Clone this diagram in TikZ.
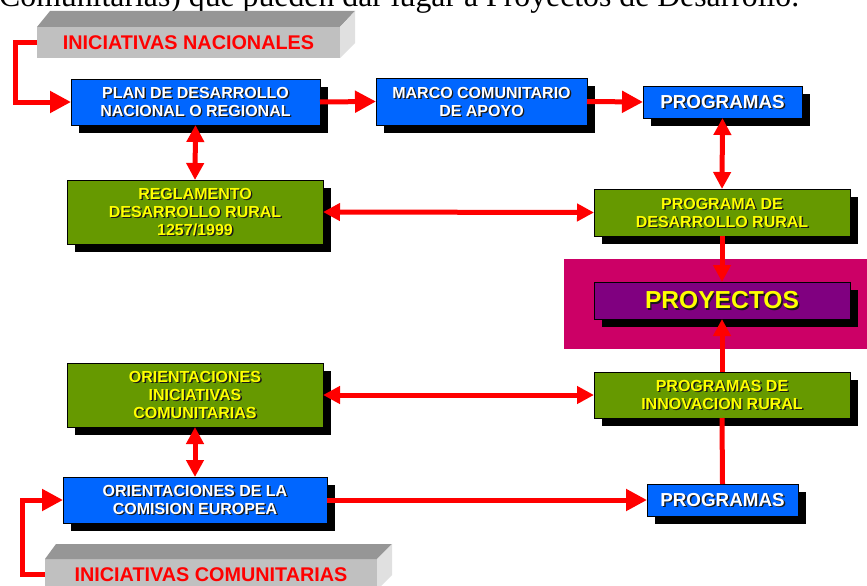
\documentclass[tikz,border=0pt]{standalone}
\usepackage{fontspec}
\setmainfont{Liberation Serif}
\setsansfont{Liberation Sans}
\usetikzlibrary{arrows.meta,shadows}
\definecolor{bxblue}{HTML}{0066FF}
\definecolor{bxgreen}{HTML}{669900}
\definecolor{bxpurple}{HTML}{800080}
\definecolor{bgmag}{HTML}{CC0066}
\definecolor{gfront}{HTML}{C0C0C0}
\definecolor{gtop}{HTML}{969696}
\definecolor{gside}{HTML}{E0E0E0}
\definecolor{txyellow}{HTML}{FFFF00}
\definecolor{arred}{HTML}{FF0000}
\tikzset{
  bx/.style={draw=black, line width=0.8pt, inner sep=0pt, outer sep=0pt,
    drop shadow={shadow xshift=8pt, shadow yshift=-8pt, fill=black, opacity=1}},
  lbl/.style={font=\sffamily\bfseries\fontsize{16}{18}\selectfont, align=center, inner sep=0pt},
  lblbig/.style={font=\sffamily\bfseries\fontsize{18.8}{20}\selectfont, align=center, inner sep=0pt},
  lblproy/.style={font=\sffamily\bfseries\fontsize{24.6}{26}\selectfont, align=center, inner sep=0pt},
  inic/.style={font=\sffamily\bfseries\fontsize{19.8}{22}\selectfont, text=arred, inner sep=0pt},
  gfr/.style={fill=gfront, inner sep=0pt, outer sep=0pt},
  ln/.style={draw=arred, line width=5pt},
  big/.style={ln, -{Triangle[length=21pt,width=21pt]}},
  sm/.style={ln, -{Triangle[length=17pt,width=17pt]}},
  dbl/.style={ln, {Triangle[length=17pt,width=17pt]}-{Triangle[length=17pt,width=17pt]}},
}
% name, center, width, height, fill, text colour, label style, text
\newcommand\mybox[8]{%
  \node[bx, fill=#5, minimum width=#3pt, minimum height=#4pt] (#1) at (#2) {};
  \node[#7, text=black!90] at ([shift={(1.4,1.4)}]#1.center) {#8};
  \node[#7, text=#6] at (#1.center) {#8};
}
\begin{document}
\begin{tikzpicture}[x=1pt,y=-1pt]
\useasboundingbox (0,0) rectangle (867,586);
\clip (0,0) rectangle (867,586);
\fill[white] (0,0) rectangle (867,586);

% heading line cut by the top edge
\node[anchor=base west, inner sep=0pt] (cap) at (-1,6.7)
  {\resizebox{800pt}{!}{\fontsize{28}{30}\selectfont Comunitarias) que pueden dar lugar a Proyectos de Desarrollo.}};

% magenta background
\fill[bgmag] (564,259) rectangle (867,349);

% grey 3D boxes
\node[gfr, minimum width=303pt, minimum height=31pt] (inac) at (188.5,42.5) {};
\fill[gtop] (inac.north west) -- ++(13,-16) -- ([shift={(15,-16)}]inac.north east) -- (inac.north east) -- cycle;
\fill[gside] (inac.north east) -- ++(15,-16) -- ++(0,32) -- (inac.south east) -- cycle;
\node[inic] at (inac.center) {INICIATIVAS NACIONALES};

\node[gfr, minimum width=332pt, minimum height=31pt] (icom) at (211,574.5) {};
\fill[gtop] (icom.north west) -- ++(11,-15) -- ([shift={(15,-15)}]icom.north east) -- (icom.north east) -- cycle;
\fill[gside] (icom.north east) -- ++(15,-15) -- ++(0,31) -- (icom.south east) -- cycle;
\node[inic] at (icom.center) {INICIATIVAS COMUNITARIAS};

% boxes
\mybox{plan}{195.5,102}{249}{46}{bxblue}{white}{lbl}{PLAN DE DESARROLLO\\NACIONAL O REGIONAL}
\mybox{marco}{481.5,101.5}{211}{47}{bxblue}{white}{lbl}{MARCO COMUNITARIO\\DE APOYO}
\mybox{progA}{722.5,102}{159}{32}{bxblue}{white}{lblbig}{PROGRAMAS}
\mybox{regl}{195,212}{256}{64}{bxgreen}{txyellow}{lbl}{REGLAMENTO\\DESARROLLO RURAL\\1257/1999}
\mybox{pdr}{722,212.5}{256}{47}{bxgreen}{txyellow}{lbl}{PROGRAMA DE\\DESARROLLO RURAL}
\mybox{proy}{722,300.5}{256}{37}{bxpurple}{txyellow}{lblproy}{PROYECTOS}
\mybox{oic}{195,395}{256}{64}{bxgreen}{txyellow}{lbl}{ORIENTACIONES\\INICIATIVAS\\COMUNITARIAS}
\mybox{pir}{722,395}{256}{46}{bxgreen}{txyellow}{lbl}{PROGRAMAS DE\\INNOVACION RURAL}
\mybox{oce}{195,500}{264}{46}{bxblue}{white}{lbl}{ORIENTACIONES DE LA\\COMISION EUROPEA}
\mybox{progB}{722.5,500}{151}{32}{bxblue}{white}{lblbig}{PROGRAMAS}

% connectors
\draw[big] (inac.west) -- ++(-22,0) |- (plan.west);
\draw[big] (icom.west) -- ++(-23,0) |- (oce.west);
\draw[big] (plan.east) -- (marco.west);
\draw[big] (marco.east) -- (progA.west);
\draw[big] (oce.east) -- (progB.west);
\draw[dbl] (progA.south) -- (pdr.north);
\draw[dbl] (plan.south) -- (regl.north);
\draw[dbl] (regl.east) -- (pdr.west);
\draw[dbl] (oic.east) -- (pir.west);
\draw[dbl] (oic.south) -- (oce.north);
\draw[sm] (pdr.south) -- (proy.north);
\draw[sm] (pir.north) -- (proy.south);
\draw[ln] (progB.north) -- (pir.south);
\end{tikzpicture}
\end{document}
